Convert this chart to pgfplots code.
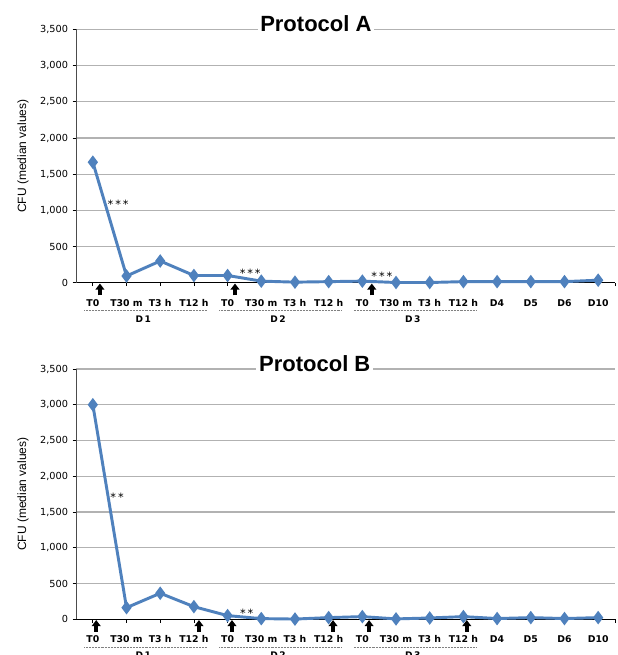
\documentclass[border=0pt]{standalone}
\usepackage{fontspec}
\setmainfont{DejaVu Sans}
\newfontfamily\lib{Liberation Sans}
\usepackage{pgfplots}
\pgfplotsset{compat=1.18}
\usetikzlibrary{arrows.meta}
\definecolor{serblue}{RGB}{79,129,189}
\definecolor{gridgray}{RGB}{178,178,178}

\pgfplotsset{
 panel/.style={
  scale only axis, width=404.25pt,
  xmin=-0.5, xmax=15.5, ymin=0, ymax=3500,
  axis x line=bottom, axis y line=left, axis line style={-},
  x axis line style={black, line width=0.8pt},
  y axis line style={gray!60!black, line width=0.75pt},
  xtick={0,...,15},
  xticklabels={T0,T30 m,T3 h,T12 h,T0,T30 m,T3 h,T12 h,T0,T30 m,T3 h,T12 h,D4,D5,D6,D10},
  extra x ticks={15.5}, extra x tick labels={},
  ytick={0,500,...,3500},
  yticklabels={0,500,{1,000},{1,500},{2,000},{2,500},{3,000},{3,500}},
  ymajorgrids, grid style={gridgray, line width=0.9pt},
  tick align=outside, major tick length=2.5pt,
  tick style={black, line width=0.6pt},
  xticklabel style={font=\fontsize{7}{8}\selectfont\bfseries, anchor=base, yshift=-15pt},
  yticklabel style={font=\fontsize{7.3}{8}\selectfont},
  ylabel={CFU (median values)},
  ylabel style={font=\lib\fontsize{9}{10}\selectfont, at={(axis description cs:-0.0983,0.5)}, anchor=center},
  clip=false,
  every axis title shift=0pt,
  title style={font=\lib\bfseries\fontsize{16.5}{18}\selectfont, anchor=base, fill=white, inner xsep=2pt, inner ysep=1pt},
 },
 serie/.style={serblue, line width=2.2pt, mark=diamond*, mark size=3.3pt, mark options={solid, fill=serblue}},
}
\tikzset{
 upar/.style={-{Triangle[width=6.5pt,length=4.5pt]}, line width=2.6pt, black},
 mydots/.style={gray, line width=0.6pt, dash pattern=on 0.5pt off 0.6pt},
 stars/.style={font=\fontsize{8.5}{9}\selectfont, inner sep=0pt},
 dlab/.style={font=\fontsize{6.8}{8}\selectfont\bfseries, inner sep=0pt},
}

\begin{document}
\begin{tikzpicture}
% ---------------- Protocol A ----------------
\begin{axis}[panel, at={(57pt,279.2pt)}, anchor=south west, height=190pt,
  title={Protocol A}, title style={at={(axis description cs:0.445,0.993)}}]
\addplot[serie] coordinates {
 (0,1665) (1,93) (2,300) (3,100) (4,100) (5,22) (6,8) (7,15)
 (8,22) (9,3) (10,3) (11,15) (12,15) (13,15) (14,15) (15,35)};
\draw[mydots] ([yshift=-21pt]axis cs:-0.25,0) -- ([yshift=-21pt]axis cs:3.4,0);
\draw[mydots] ([yshift=-21pt]axis cs:3.75,0) -- ([yshift=-21pt]axis cs:7.4,0);
\draw[mydots] ([yshift=-21pt]axis cs:7.75,0) -- ([yshift=-21pt]axis cs:11.4,0);
\node[dlab] at ([yshift=-27pt]axis cs:1.5,0) {D\,1};
\node[dlab] at ([yshift=-27pt]axis cs:5.5,0) {D\,2};
\node[dlab] at ([yshift=-27pt]axis cs:9.5,0) {D\,3};
\draw[upar] ([yshift=-9.5pt]axis cs:0.21,0) -- ([yshift=-0.6pt]axis cs:0.21,0);
\draw[upar] ([yshift=-9.5pt]axis cs:4.22,0) -- ([yshift=-0.6pt]axis cs:4.22,0);
\draw[upar] ([yshift=-9.5pt]axis cs:8.28,0) -- ([yshift=-0.6pt]axis cs:8.28,0);
\node[stars] at (axis cs:0.75,1090) {*\,*\,*};
\node[stars] at (axis cs:4.67,125) {*\,*\,*};
\node[stars] at (axis cs:8.58,85) {*\,*\,*};
\end{axis}
% ---------------- Protocol B ----------------
\begin{axis}[panel, at={(57pt,26.8pt)}, anchor=south west, height=187.7pt,
  title={Protocol B}, title style={at={(axis description cs:0.443,0.988)}}]
\addplot[serie] coordinates {
 (0,3000) (1,162) (2,364) (3,176) (4,51) (5,9) (6,3) (7,23)
 (8,37) (9,5) (10,18) (11,37) (12,10) (13,23) (14,10) (15,23)};
\draw[mydots] ([yshift=-21pt]axis cs:-0.25,0) -- ([yshift=-21pt]axis cs:3.4,0);
\draw[mydots] ([yshift=-21pt]axis cs:3.75,0) -- ([yshift=-21pt]axis cs:7.4,0);
\draw[mydots] ([yshift=-21pt]axis cs:7.75,0) -- ([yshift=-21pt]axis cs:11.4,0);
\node[dlab] at ([yshift=-27pt]axis cs:1.5,0) {D\,1};
\node[dlab] at ([yshift=-27pt]axis cs:5.5,0) {D\,2};
\node[dlab] at ([yshift=-27pt]axis cs:9.5,0) {D\,3};
\draw[upar] ([yshift=-9.5pt]axis cs:0.1,0) -- ([yshift=-0.6pt]axis cs:0.1,0);
\draw[upar] ([yshift=-9.5pt]axis cs:3.15,0) -- ([yshift=-0.6pt]axis cs:3.15,0);
\draw[upar] ([yshift=-9.5pt]axis cs:4.13,0) -- ([yshift=-0.6pt]axis cs:4.13,0);
\draw[upar] ([yshift=-9.5pt]axis cs:7.13,0) -- ([yshift=-0.6pt]axis cs:7.13,0);
\draw[upar] ([yshift=-9.5pt]axis cs:8.2,0) -- ([yshift=-0.6pt]axis cs:8.2,0);
\draw[upar] ([yshift=-9.5pt]axis cs:11.1,0) -- ([yshift=-0.6pt]axis cs:11.1,0);
\node[stars] at (axis cs:0.72,1705) {*\,*};
\node[stars] at (axis cs:4.57,85) {*\,*};
\end{axis}
\pgfresetboundingbox
\useasboundingbox (0,0) rectangle (462.75pt,491.25pt);
\end{tikzpicture}
\end{document}
